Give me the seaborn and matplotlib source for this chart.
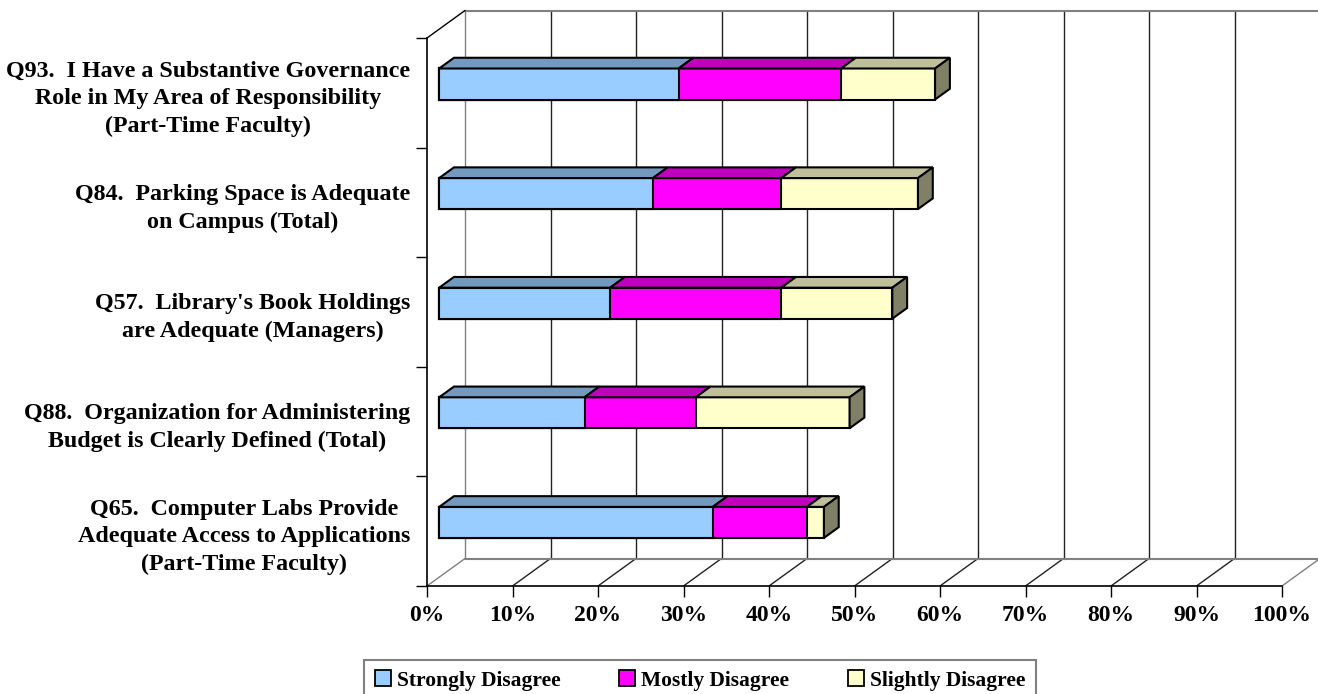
import numpy as np
import matplotlib.pyplot as plt
import seaborn as sns
from matplotlib.patches import Polygon
from matplotlib.lines import Line2D
from matplotlib.ticker import FixedLocator
from matplotlib.colors import to_rgb

# -------------------- Datos -------------------- #
preguntas = [
    "Q93.  I Have a Substantive Governance\nRole in My Area of Responsibility\n(Part-Time Faculty)",
    "Q84.  Parking Space is Adequate\non Campus (Total)",
    "Q57.  Library's Book Holdings\nare Adequate (Managers)",
    "Q88.  Organization for Administering\nBudget is Clearly Defined (Total)",
    "Q65.  Computer Labs Provide\nAdequate Access to Applications\n(Part-Time Faculty)",
]
strongly = [28, 25, 20, 17, 32]
mostly = [19, 15, 20, 13, 11]
slightly = [11, 16, 13, 18, 2]
series = ["Strongly Disagree", "Mostly Disagree", "Slightly Disagree"]
colores = ["#99CCFF", "#FF00FF", "#FFFFCC"]
x_ticks = list(range(0, 101, 10))
x_labels = [f"{v}%" for v in x_ticks]


def oscurecer(c, f):
    r, g, b = to_rgb(c)
    return (r * f, g * f, b * f)


sns.set_theme(style="white")
plt.rcParams['font.family'] = ['Liberation Serif', 'DejaVu Serif']
plt.rcParams['font.weight'] = 'bold'
for k in ['text.color', 'axes.labelcolor', 'xtick.color', 'ytick.color']:
    plt.rcParams[k] = 'black'

fig = plt.figure(figsize=(13.18, 6.94), dpi=100)
ax = fig.add_axes([427 / 1318, 1 - 586 / 694, 855 / 1318, 548 / 694])

# profundidad del efecto 3D (en unidades de datos)
DX = 38 / 8.55
DY = -27.5 / 109.6
f0, f1 = 0.32, 0.71
ancho = 0.283
n = len(preguntas)

# -------------------- Paredes y rejilla -------------------- #
gris = '#808080'
y_top, y_bot = -0.5, n - 0.5
for v in x_ticks:
    c = gris if v in (0, 100) else '#222222'
    ax.plot([v + DX, v + DX], [y_bot + DY, y_top + DY], color=c, lw=1.0,
            clip_on=False, zorder=1)
    ax.plot([v, v + DX], [y_bot, y_bot + DY], color=c, lw=1.0,
            clip_on=False, zorder=1)
ax.plot([DX, 100 + DX], [y_top + DY] * 2, color=gris, lw=1.5, clip_on=False, zorder=1)
ax.plot([DX, 100 + DX], [y_bot + DY] * 2, color=gris, lw=1.5, clip_on=False, zorder=1)
ax.plot([0, DX], [y_top, y_top + DY], color='black', lw=1.0, clip_on=False, zorder=1)

# -------------------- Barras apiladas -------------------- #
acum = np.cumsum(np.array([strongly, mostly, slightly]), axis=0)
grupos = {}
for j in [2, 1, 0]:
    antes = len(ax.patches)
    sns.barplot(x=acum[j], y=preguntas, orient='h', color=colores[j],
                saturation=1, width=ancho, errorbar=None, edgecolor='black',
                linewidth=1.5, zorder=3, ax=ax)
    grupos[j] = ax.patches[antes:]

ddx, ddy = (f1 - f0) * DX, (f1 - f0) * DY
for j in [0, 1, 2]:
    for p in grupos[j]:
        p.set_x(p.get_x() + f0 * DX)
        p.set_y(p.get_y() + f0 * DY)

for i in range(n):
    for j in range(3):
        p = grupos[j][i]
        x1 = p.get_x() + p.get_width()
        x0 = p.get_x() + (acum[j - 1][i] if j > 0 else 0)
        yt = p.get_y()
        top = Polygon([(x0, yt), (x1, yt), (x1 + ddx, yt + ddy), (x0 + ddx, yt + ddy)],
                      closed=True, facecolor=oscurecer(colores[j], 0.75),
                      edgecolor='black', lw=1.5, zorder=3, clip_on=False)
        ax.add_patch(top)
    p = grupos[2][i]
    x1 = p.get_x() + p.get_width()
    yt, yb = p.get_y(), p.get_y() + p.get_height()
    lado = Polygon([(x1, yt), (x1, yb), (x1 + ddx, yb + ddy), (x1 + ddx, yt + ddy)],
                   closed=True, facecolor=oscurecer(colores[2], 0.5),
                   edgecolor='black', lw=1.5, zorder=3, clip_on=False)
    ax.add_patch(lado)

# -------------------- Ejes -------------------- #
ax.set_xlim(0, 100)
ax.set_ylim(y_bot, y_top)
ax.set_xlabel('')
ax.set_ylabel('')
ax.set_xticks(x_ticks)
ax.set_xticklabels(x_labels, fontsize=17, fontweight='bold')
ax.set_yticks(range(n))
ax.set_yticklabels(preguntas, fontsize=17.3, fontweight='bold', linespacing=1.42)
for lbl in ax.get_yticklabels():
    lbl.set_multialignment('center')
ax.yaxis.set_minor_locator(FixedLocator(np.arange(-0.5, n, 1.0)))
ax.tick_params(axis='y', which='major', length=0, pad=12)
ax.tick_params(axis='y', which='minor', length=8, width=1, color='black', left=True)
ax.tick_params(axis='x', which='major', length=8, width=1, color='black', pad=6, bottom=True)
for s in ['top', 'right']:
    ax.spines[s].set_visible(False)
for s in ['left', 'bottom']:
    ax.spines[s].set_color('black')
    ax.spines[s].set_linewidth(1.2)
ax.set_facecolor('none')
ax.grid(False)

# -------------------- Leyenda -------------------- #
manijas = [Line2D([], [], marker='s', linestyle='', markersize=11.5,
                  markerfacecolor=c, markeredgecolor='black', markeredgewidth=1.3)
           for c in colores]
leg = fig.legend(manijas, series, loc='upper center', ncol=3,
                 bbox_to_anchor=(700 / 1318, 1 - 660 / 694), borderaxespad=0,
                 prop={'family': 'Liberation Serif', 'weight': 'bold', 'size': 15.5},
                 frameon=True, fancybox=False, framealpha=1, edgecolor=gris,
                 handlelength=0.8, handletextpad=0.25, columnspacing=2.7,
                 borderpad=0.5)
leg.get_frame().set_linewidth(1.5)

fig.savefig('out.png', dpi=100)
